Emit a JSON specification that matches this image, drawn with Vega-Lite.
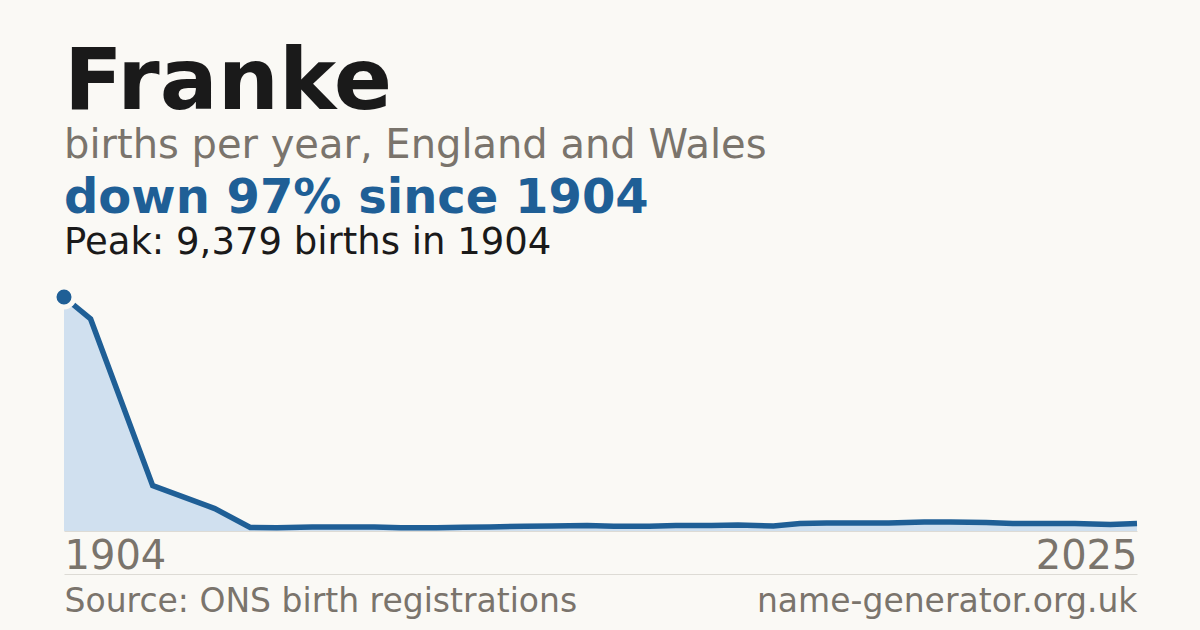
{
  "$schema": "https://vega.github.io/schema/vega-lite/v6.json",
  "background": "#faf9f5",
  "padding": {"left": 44, "right": 60, "top": 40, "bottom": 12},
  "title": {
    "text": "Franke",
    "subtitle": "births per year, England and Wales",
    "anchor": "start",
    "frame": "group",
    "font": "DejaVu Sans",
    "fontSize": 86,
    "fontWeight": "bold",
    "color": "#1a1a1a",
    "subtitleFont": "DejaVu Sans",
    "subtitleFontSize": 40,
    "subtitleColor": "#7a746c",
    "subtitlePadding": -1,
    "offset": 8
  },
  "vconcat": [
    {
      "width": 1073,
      "height": 234,
      "title": {
        "text": "down 97% since 1904",
        "subtitle": "Peak: 9,379 births in 1904",
        "anchor": "start",
        "frame": "group",
        "font": "DejaVu Sans",
        "fontSize": 48,
        "fontWeight": "bold",
        "color": "#1f5f96",
        "subtitleFont": "DejaVu Sans",
        "subtitleFontSize": 37,
        "subtitleColor": "#1a1a1a",
        "subtitlePadding": 2,
        "offset": 16
      },
      "data": {
        "values": [
          {"year": 1904, "births": 9379},
          {"year": 1907, "births": 8500},
          {"year": 1914, "births": 1820},
          {"year": 1921, "births": 900},
          {"year": 1925, "births": 140},
          {"year": 1928, "births": 130},
          {"year": 1932, "births": 160},
          {"year": 1935, "births": 160},
          {"year": 1939, "births": 160},
          {"year": 1942, "births": 130},
          {"year": 1946, "births": 130},
          {"year": 1949, "births": 150},
          {"year": 1952, "births": 160},
          {"year": 1956, "births": 190},
          {"year": 1959, "births": 200},
          {"year": 1963, "births": 220},
          {"year": 1966, "births": 190},
          {"year": 1970, "births": 190},
          {"year": 1973, "births": 220},
          {"year": 1977, "births": 220},
          {"year": 1980, "births": 240},
          {"year": 1984, "births": 200},
          {"year": 1987, "births": 300},
          {"year": 1990, "births": 320},
          {"year": 1994, "births": 320},
          {"year": 1997, "births": 320},
          {"year": 2001, "births": 360},
          {"year": 2004, "births": 360},
          {"year": 2008, "births": 340},
          {"year": 2011, "births": 300},
          {"year": 2015, "births": 300},
          {"year": 2018, "births": 300},
          {"year": 2022, "births": 260},
          {"year": 2025, "births": 300}
        ]
      },
      "layer": [
        {
          "mark": {"type": "area", "color": "#d0e0ef"},
          "encoding": {
            "x": {
              "field": "year",
              "type": "quantitative",
              "scale": {"domain": [1904, 2025], "nice": false, "zero": false},
              "axis": {
                "orient": "bottom",
                "values": [1904, 2025],
                "format": "d",
                "title": null,
                "grid": false,
                "ticks": false,
                "tickSize": 0,
                "domain": true,
                "domainColor": "#dddbd5",
                "domainWidth": 1,
                "labelFlush": true,
                "labelOverlap": false,
                "labelLimit": 600,
                "labelFont": "DejaVu Sans",
                "labelFontSize": 40,
                "labelColor": "#7a746c",
                "labelBaseline": "alphabetic",
                "labelPadding": 37
              }
            },
            "y": {
              "field": "births",
              "type": "quantitative",
              "scale": {"domain": [0, 9379], "nice": false},
              "axis": null
            }
          }
        },
        {
          "mark": {"type": "line", "color": "#1f5f96", "strokeWidth": 5.5},
          "encoding": {
            "x": {
              "field": "year",
              "type": "quantitative",
              "axis": {
                "orient": "bottom",
                "offset": 43,
                "values": [1904, 2025],
                "labelExpr": "datum.value == 1904 ? 'Source: ONS birth registrations' : 'name-generator.org.uk'",
                "title": null,
                "grid": false,
                "ticks": false,
                "tickSize": 0,
                "domain": true,
                "domainColor": "#dddbd5",
                "domainWidth": 1,
                "labelFlush": true,
                "labelOverlap": false,
                "labelLimit": 600,
                "labelFont": "DejaVu Sans",
                "labelFontSize": 33,
                "labelColor": "#7a746c",
                "labelBaseline": "alphabetic",
                "labelPadding": 37
              }
            },
            "y": {"field": "births", "type": "quantitative"}
          }
        },
        {
          "transform": [{"filter": "datum.year == 1904"}],
          "mark": {
            "type": "point",
            "filled": true,
            "color": "#1f5f96",
            "size": 400,
            "stroke": "#faf9f5",
            "strokeWidth": 5,
            "opacity": 1
          },
          "encoding": {
            "x": {"field": "year", "type": "quantitative", "axis": null},
            "y": {"field": "births", "type": "quantitative"}
          }
        }
      ],
      "resolve": {"axis": {"x": "independent"}}
    }
  ],
  "config": {
    "view": {"stroke": null},
    "concat": {"spacing": 0}
  }
}
